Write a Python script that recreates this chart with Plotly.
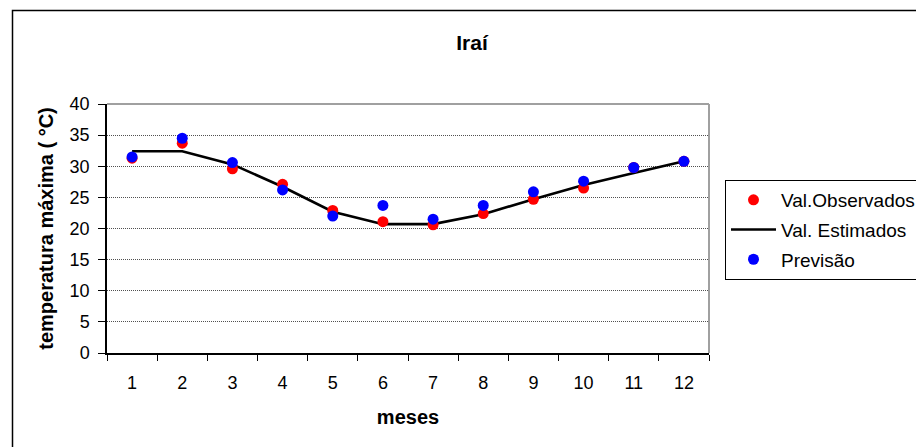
import plotly.graph_objects as go

months = [1, 2, 3, 4, 5, 6, 7, 8, 9, 10, 11, 12]
month_labels = ["1", "2", "3", "4", "5", "6", "7", "8", "9", "10", "11", "12"]
observados = [31.3, 33.7, 29.6, 27.1, 22.9, 21.1, 20.6, 22.4, 24.7, 26.5, 29.8, 30.8]
estimados = [32.4, 32.4, 30.3, 26.7, 22.7, 20.7, 20.7, 22.3, 24.7, 27.0, 28.9, 30.8]
previsao = [31.5, 34.5, 30.6, 26.2, 22.0, 23.7, 21.5, 23.7, 25.9, 27.6, 29.8, 30.8]

FONT = "Arial, Liberation Sans, sans-serif"
W, H = 916, 447
L, R, T, B = 107, 709, 104, 353
pw, ph = R - L, B - T

fig = go.Figure()
fig.add_trace(go.Scatter(x=months, y=estimados, mode="lines", name="Val. Estimados",
                         line=dict(color="black", width=2.6), legendrank=2, legendgroup="b"))
fig.add_trace(go.Scatter(x=months, y=observados, mode="markers", name="Val.Observados",
                         marker=dict(color="#ff0000", size=11), legendrank=1, legendgroup="a"))
fig.add_trace(go.Scatter(x=months, y=previsao, mode="markers", name="Previsão",
                         marker=dict(color="#0000ff", size=11), legendrank=3, legendgroup="c"))

bounds = [m - 0.5 for m in months] + [months[-1] + 0.5]

fig.update_layout(
    width=W, height=H,
    margin=dict(l=L, r=W - R, t=T, b=H - B, pad=0, autoexpand=False),
    paper_bgcolor="white", plot_bgcolor="white",
    font=dict(family=FONT, color="black", size=16),
    title=dict(text="<b>Iraí</b>", x=472 / W, xref="container", xanchor="center",
               y=1 - 43 / H, yref="container", yanchor="middle",
               font=dict(size=21, family=FONT, color="black")),
    showlegend=True,
    legend=dict(x=(725 - L) / pw, y=(B - 180) / ph, xanchor="left", yanchor="top",
                bordercolor="black", borderwidth=1, bgcolor="white",
                font=dict(size=19, family=FONT), traceorder="grouped",
                tracegroupgap=2, itemwidth=45),
    xaxis=dict(range=[0.5, 12.5], tickmode="array", tickvals=months, ticktext=month_labels,
               ticks="outside", ticklen=13, tickcolor="rgba(0,0,0,0)", automargin=False,
               showline=True, linecolor="black", linewidth=1.5, showgrid=False, zeroline=False,
               tickfont=dict(size=18, family=FONT),
               minor=dict(tickmode="array", tickvals=bounds, ticks="outside", ticklen=6,
                          tickcolor="black", showgrid=False),
               title=dict(text="<b>meses</b>", font=dict(size=20, family=FONT), standoff=18)),
    yaxis=dict(range=[0, 40], tickmode="linear", tick0=0, dtick=5,
               ticks="outside", ticklen=7, tickcolor="black", automargin=False,
               ticklabelstandoff=5,
               showline=True, linecolor="black", linewidth=1.5,
               showgrid=True, gridcolor="#505050", gridwidth=1, griddash="1px,1px",
               zeroline=False, tickfont=dict(size=18, family=FONT),
               title=dict(text="<b>temperatura máxima ( °C)</b>", font=dict(size=20, family=FONT),
                          standoff=11)),
    shapes=[
        dict(type="line", xref="paper", yref="paper", x0=0, x1=1, y0=1, y1=1,
             line=dict(color="#a0a0a0", width=2), layer="above"),
        dict(type="line", xref="paper", yref="paper", x0=1, x1=1, y0=0, y1=1,
             line=dict(color="#a0a0a0", width=2), layer="above"),
        dict(type="rect", xref="paper", yref="paper",
             x0=(12.5 - L) / pw, x1=(940 - L) / pw, y0=(B - 470) / ph, y1=(B - 10.5) / ph,
             line=dict(color="black", width=1.5), fillcolor="rgba(0,0,0,0)", layer="above"),
    ],
)

fig.write_html("out.html", config={"displayModeBar": False},
               post_script="document.body.style.margin='0';")
